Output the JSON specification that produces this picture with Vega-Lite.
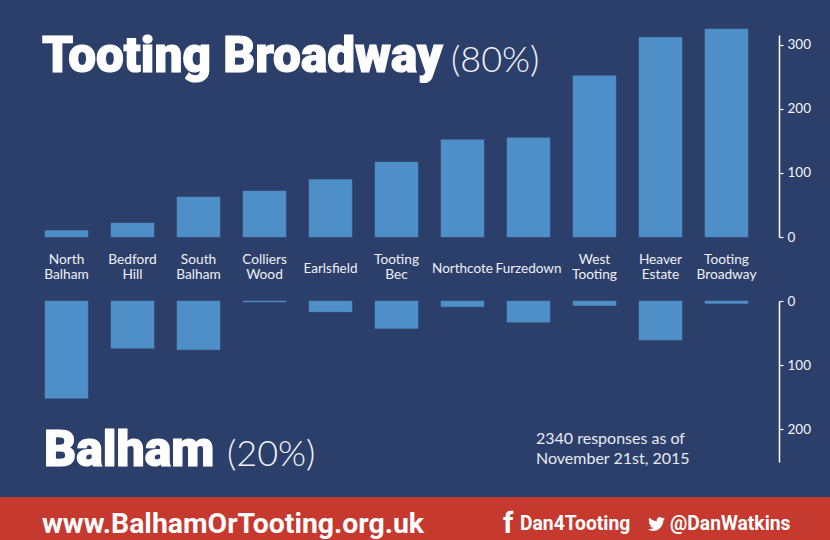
{
  "$schema": "https://vega.github.io/schema/vega-lite/v6.json",
  "background": "#2c3f6b",
  "padding": 0,
  "spacing": 0,
  "config": {"view": {"stroke": null}, "concat": {"spacing": 0}},
  "datasets": {
    "wards": [
      {"ward": "North Balham", "label": "North\nBalham", "tootingBroadway": 10, "balham": 152},
      {"ward": "Bedford Hill", "label": "Bedford\nHill", "tootingBroadway": 22, "balham": 74},
      {"ward": "South Balham", "label": "South\nBalham", "tootingBroadway": 62.5, "balham": 76},
      {"ward": "Colliers Wood", "label": "Colliers\nWood", "tootingBroadway": 72, "balham": 1.5},
      {"ward": "Earlsfield", "label": "Earlsfield", "tootingBroadway": 90, "balham": 17},
      {"ward": "Tooting Bec", "label": "Tooting\nBec", "tootingBroadway": 117, "balham": 43},
      {"ward": "Northcote", "label": "Northcote", "tootingBroadway": 152, "balham": 9},
      {"ward": "Furzedown", "label": "Furzedown", "tootingBroadway": 155, "balham": 33},
      {"ward": "West Tooting", "label": "West\nTooting", "tootingBroadway": 252, "balham": 7},
      {"ward": "Heaver Estate", "label": "Heaver\nEstate", "tootingBroadway": 312, "balham": 61},
      {"ward": "Tooting Broadway", "label": "Tooting\nBroadway", "tootingBroadway": 325, "balham": 4}
    ]
  },
  "vconcat": [
    {
      "width": 830,
      "height": 497,
      "resolve": {"scale": {"y": "independent"}, "axis": {"y": "independent"}},
      "layer": [
        {
          "data": {"name": "wards"},
          "mark": {"type": "bar", "color": "#4f8fc8", "stroke": "#4a86bd", "strokeWidth": 0.5, "clip": false},
          "encoding": {
            "x": {"field": "ward", "type": "nominal", "sort": null, "axis": null,
              "scale": {"range": [45, 748], "paddingInner": 0.348, "paddingOuter": 0}},
            "y": {"field": "tootingBroadway", "type": "quantitative",
              "scale": {"domain": [0, 315.6], "range": [237, 35], "nice": false},
              "axis": {"orient": "right", "offset": -51, "title": null, "values": [0, 100, 200, 300], "grid": false,
                "domainColor": "#ffffff", "domainWidth": 1.5, "tickColor": "#ffffff", "tickSize": 4, "tickWidth": 1.2,
                "labelColor": "#f4f5f8", "labelFont": "Lato", "labelFontWeight": 400, "labelFontSize": 13.5, "labelPadding": 4}}
          }
        },
        {
          "data": {"name": "wards"},
          "mark": {"type": "bar", "color": "#4f8fc8", "stroke": "#4a86bd", "strokeWidth": 0.5, "clip": false},
          "encoding": {
            "x": {"field": "ward", "type": "nominal", "sort": null, "axis": null},
            "y": {"field": "balham", "type": "quantitative",
              "scale": {"domain": [0, 251.5], "range": [301, 462], "nice": false},
              "axis": {"orient": "right", "offset": -51, "title": null, "values": [0, 100, 200], "grid": false,
                "domainColor": "#ffffff", "domainWidth": 1.5, "tickColor": "#ffffff", "tickSize": 4, "tickWidth": 1.2,
                "labelColor": "#f4f5f8", "labelFont": "Lato", "labelFontWeight": 400, "labelFontSize": 13.5, "labelPadding": 4}}
          }
        },
        {
          "data": {"name": "wards"},
          "transform": [{"filter": "indexof(datum.label, '\\n') >= 0"}],
          "mark": {"type": "text", "y": 260, "lineBreak": "\n", "lineHeight": 15, "font": "Lato", "fontSize": 13.7, "color": "#eef0f5", "baseline": "middle", "align": "center"},
          "encoding": {
            "x": {"field": "ward", "type": "nominal", "sort": null, "axis": null, "bandPosition": 0.5},
            "text": {"field": "label"}
          }
        },
        {
          "data": {"name": "wards"},
          "transform": [{"filter": "indexof(datum.label, '\\n') < 0"}],
          "mark": {"type": "text", "y": 269, "font": "Lato", "fontSize": 13.5, "color": "#eef0f5", "baseline": "middle", "align": "center"},
          "encoding": {
            "x": {"field": "ward", "type": "nominal", "sort": null, "axis": null, "bandPosition": 0.5},
            "text": {"field": "label"}
          }
        },
        {
          "data": {"values": [{"label": "Tooting Broadway"}]},
          "mark": {"type": "text", "x": 42, "y": 72, "align": "left", "baseline": "alphabetic", "font": "Roboto", "fontWeight": 900, "fontSize": 49.5, "color": "#ffffff", "stroke": "#ffffff", "strokeWidth": 1.2},
          "encoding": {"text": {"field": "label"}}
        },
        {
          "data": {"values": [{"label": "(80%)"}]},
          "mark": {"type": "text", "x": 451, "y": 72, "align": "left", "baseline": "alphabetic", "font": "Lato", "fontWeight": 300, "fontSize": 36, "color": "#f0f2f6"},
          "encoding": {"text": {"field": "label"}}
        },
        {
          "data": {"values": [{"label": "Balham"}]},
          "mark": {"type": "text", "x": 44, "y": 466, "align": "left", "baseline": "alphabetic", "font": "Roboto", "fontWeight": 900, "fontSize": 50, "color": "#ffffff", "stroke": "#ffffff", "strokeWidth": 1.2},
          "encoding": {"text": {"field": "label"}}
        },
        {
          "data": {"values": [{"label": "(20%)"}]},
          "mark": {"type": "text", "x": 227, "y": 466, "align": "left", "baseline": "alphabetic", "font": "Lato", "fontWeight": 300, "fontSize": 36, "color": "#f0f2f6"},
          "encoding": {"text": {"field": "label"}}
        },
        {
          "data": {"values": [{"label": "2340 responses as of\nNovember 21st, 2015"}]},
          "mark": {"type": "text", "x": 536, "y": 444, "align": "left", "baseline": "alphabetic", "lineBreak": "\n", "lineHeight": 20, "font": "Lato", "fontSize": 16, "color": "#e8eaf0"},
          "encoding": {"text": {"field": "label"}}
        }
      ]
    },
    {
      "width": 830,
      "height": 43,
      "view": {"fill": "#c6392f", "stroke": null},
      "layer": [
        {
          "data": {"values": [{"label": "www.BalhamOrTooting.org.uk"}]},
          "mark": {"type": "text", "x": 42, "y": 36, "align": "left", "baseline": "alphabetic", "font": "Roboto", "fontWeight": 700, "fontSize": 28.4, "color": "#ffffff"},
          "encoding": {"text": {"field": "label"}}
        },
        {
          "data": {"values": [{"label": "f"}]},
          "mark": {"type": "text", "x": 503, "y": 36, "align": "left", "baseline": "alphabetic", "font": "Roboto", "fontWeight": 700, "fontSize": 29, "color": "#ffffff"},
          "encoding": {"text": {"field": "label"}}
        },
        {
          "data": {"values": [{"label": "Dan4Tooting"}]},
          "mark": {"type": "text", "x": 520, "y": 33, "align": "left", "baseline": "alphabetic", "font": "Roboto", "fontWeight": 700, "fontSize": 19.3, "color": "#ffffff"},
          "encoding": {"text": {"field": "label"}}
        },
        {
          "data": {"values": [{"label": "twitter"}]},
          "mark": {"type": "point", "x": 656.5, "y": 27, "filled": true, "opacity": 1, "size": 289, "color": "#ffffff",
            "shape": "M1,-.62L.76,-.55L.94,-.78L.68,-.68L.53,-.79L.37,-.82L.17,-.74L.04,-.58L.02,-.42L.03,-.31L-.36,-.41L-.67,-.58L-.86,-.74L-.92,-.53L-.88,-.37L-.74,-.19L-.92,-.24L-.84,0L-.59,.17L-.78,.18L-.65,.36L-.39,.46L-.63,.59L-.9,.63L-1,.63L-.71,.77L-.37,.82L.08,.73L.46,.44L.7,.08L.8,-.33L.79,-.39Z"},
          "encoding": {}
        },
        {
          "data": {"values": [{"label": "@DanWatkins"}]},
          "mark": {"type": "text", "x": 670, "y": 33, "align": "left", "baseline": "alphabetic", "font": "Roboto", "fontWeight": 700, "fontSize": 19.3, "color": "#ffffff"},
          "encoding": {"text": {"field": "label"}}
        }
      ]
    }
  ]
}
